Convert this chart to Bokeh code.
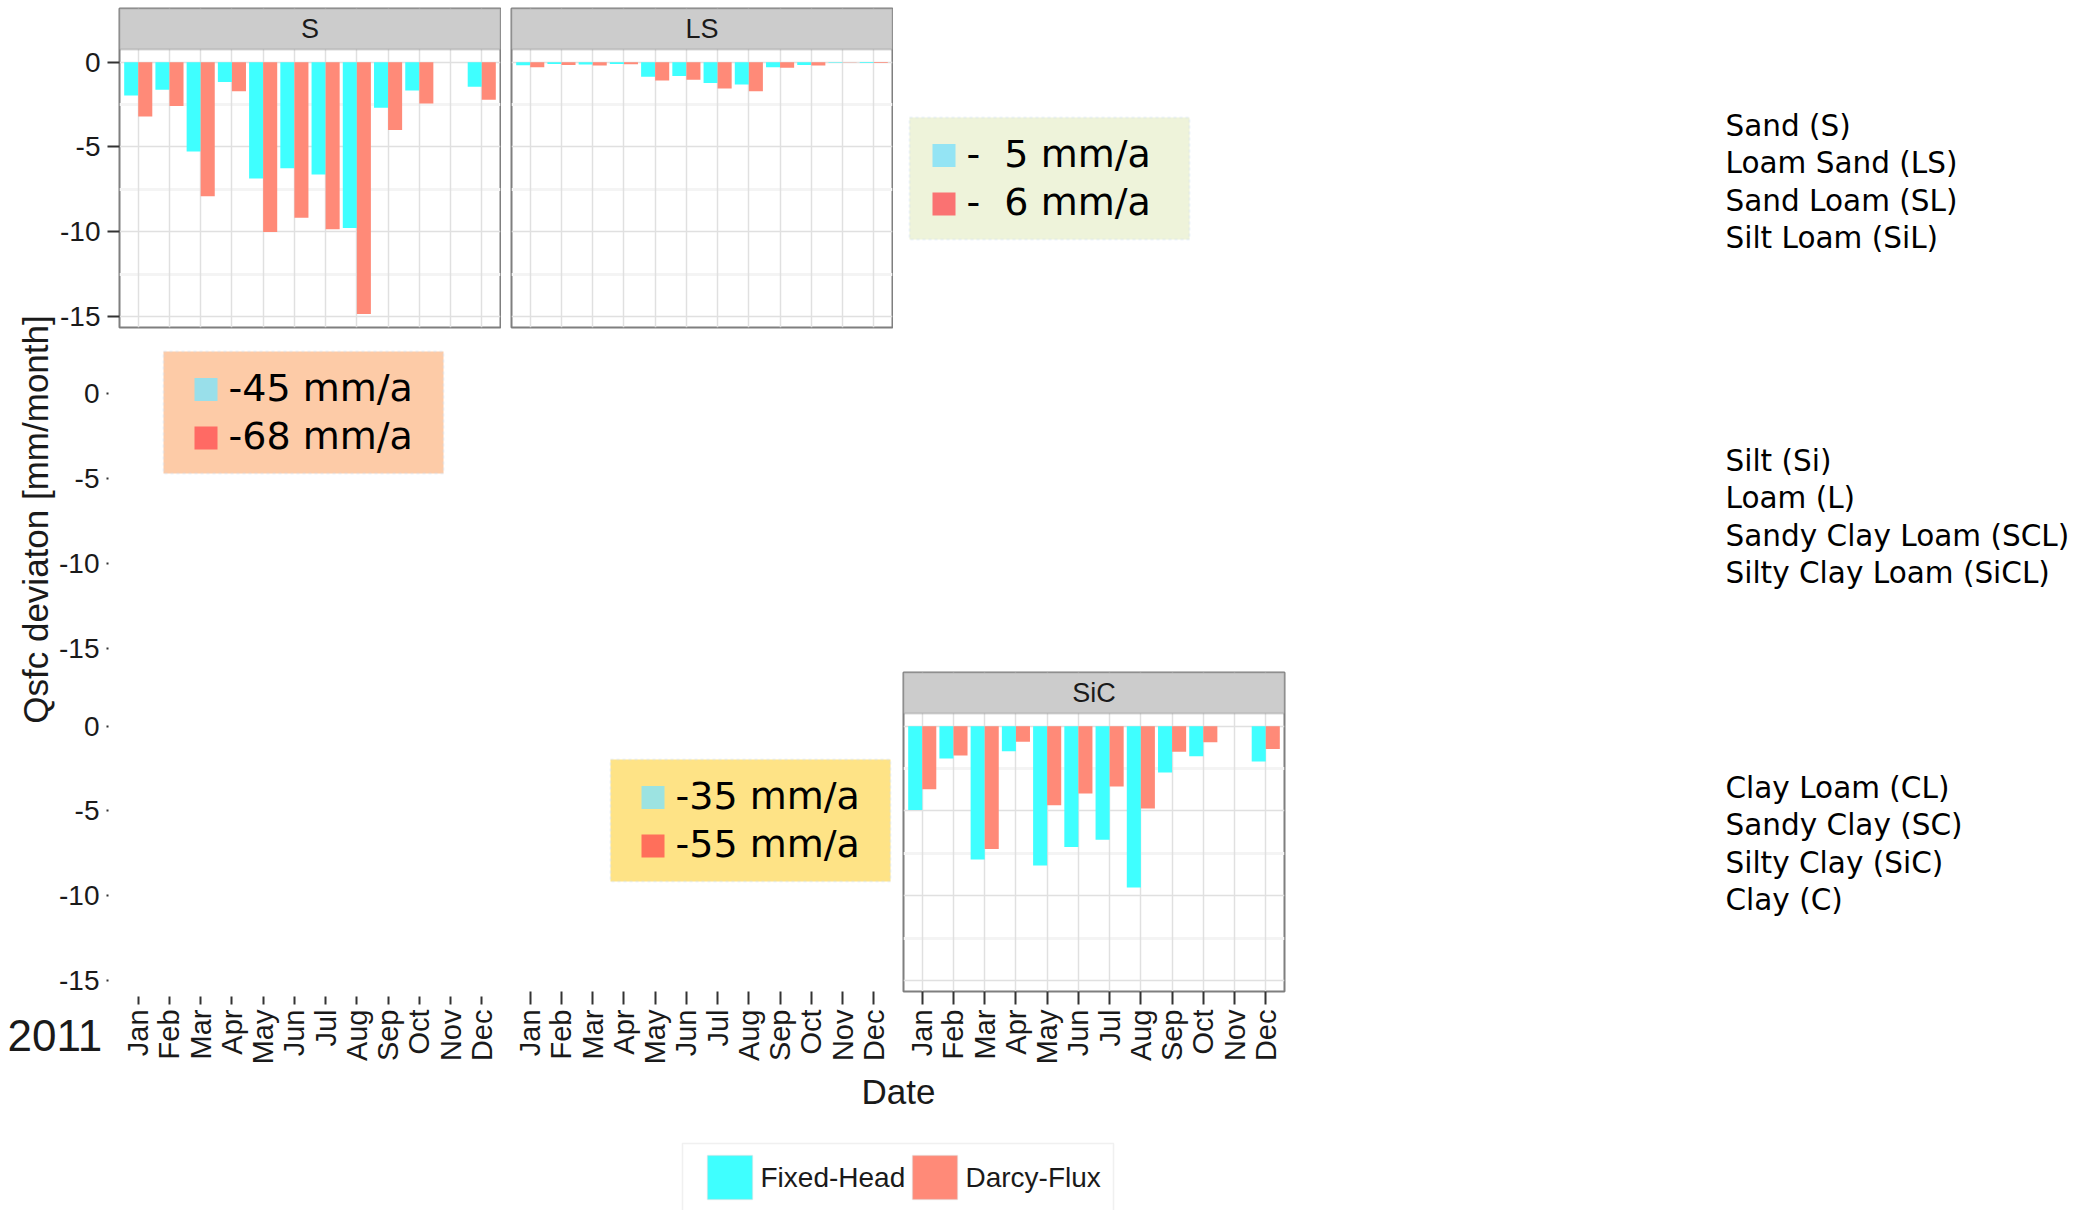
import math
from bokeh.plotting import figure
from bokeh.models import (Range1d, FixedTicker, LinearAxis, Grid, ColumnDataSource,
                          BoxAnnotation, Label)
from bokeh.layouts import row, column
from bokeh.transform import dodge
from bokeh.core.properties import value
from bokeh.embed import file_html
from bokeh.resources import INLINE

# ---------------- data ----------------
MONTHS = ["Jan", "Feb", "Mar", "Apr", "May", "Jun", "Jul", "Aug", "Sep", "Oct", "Nov", "Dec"]
MONTH_NUM = list(range(1, 13))
YEAR = "2011"
SERIES = ["Fixed-Head", "Darcy-Flux"]

S_FIXED = [-1.96, -1.63, -5.27, -1.16, -6.86, -6.25, -6.63, -9.78, -2.69, -1.67, 0.0, -1.45]
S_DARCY = [-3.20, -2.59, -7.90, -1.71, -10.02, -9.18, -9.86, -14.86, -4.00, -2.43, 0.0, -2.22]
LS_FIXED = [-0.18, -0.10, -0.14, -0.10, -0.86, -0.82, -1.22, -1.31, -0.29, -0.16, -0.03, -0.04]
LS_DARCY = [-0.29, -0.16, -0.20, -0.12, -1.08, -1.04, -1.55, -1.71, -0.33, -0.20, -0.02, -0.04]
SIC_FIXED = [-4.95, -1.91, -7.86, -1.47, -8.22, -7.12, -6.70, -9.51, -2.73, -1.77, 0.0, -2.08]
SIC_DARCY = [-3.72, -1.73, -7.25, -0.92, -4.66, -3.97, -3.56, -4.86, -1.51, -0.94, 0.0, -1.34]

FACETS = ["S", "LS", "SiC"]
NB = "\u00a0"
ANNUAL_S = ["-45 mm/a", "-68 mm/a"]
ANNUAL_LS = ["-" + NB + NB + "5 mm/a", "-" + NB + NB + "6 mm/a"]
ANNUAL_SIC = ["-35 mm/a", "-55 mm/a"]

SOILS_1 = ["Sand (S)", "Loam Sand (LS)", "Sand Loam (SL)", "Silt Loam (SiL)"]
SOILS_2 = ["Silt (Si)", "Loam (L)", "Sandy Clay Loam (SCL)", "Silty Clay Loam (SiCL)"]
SOILS_3 = ["Clay Loam (CL)", "Sandy Clay (SC)", "Silty Clay (SiC)", "Clay (C)"]

Y_TICKS = [0, -5, -10, -15]
Y_MINOR = [-2.5, -7.5, -12.5]
Y_LABEL = "Qsfc deviaton [mm/month]"
X_LABEL = "Date"

# ---------------- styles ----------------
CYAN = "#3FFFFF"
SALMON = "#FF8A78"
BORDER = "#7f7f7f"
STRIP_FILL = "#cccccc"
GRID_MAJOR = "#e0e0e0"
GRID_MINOR = "#f4f4f4"
TICK_COL = "#333333"
TXT = "#1a1a1a"
SANS = "Liberation Sans"
DEJAVU = "DejaVu Sans"
BOX_LINE = "#c9dcf2"

X_RANGE = (0.4, 12.6)
Y_RANGE = (-15.65, 0.75)

# ---------------- geometry (px) ----------------
FRAME_W = 381
FRAME_H = 278
STRIP_H = 41
PPU = FRAME_H / (Y_RANGE[1] - Y_RANGE[0])      # pixels per data unit in a panel
COL_LEFT = [63, 10, 10]
COL_RIGHT = [1, 1, 6]
FRAME_LEFT = [119, 511, 903]                    # canvas x of each column's frame
BOX_W, BOX_H, SQ, ROW1_DY, ROW_DY = 280, 122, 23, 38, 48.5


def ext_range(extra_top):
    return (Y_RANGE[0], Y_RANGE[1] + extra_top / PPU)


def base_fig(col, frame_h, top, bottom, xr=X_RANGE, yr=Y_RANGE, left=None, right=None, fw=FRAME_W):
    p = figure(frame_width=fw, frame_height=frame_h,
               min_border_left=COL_LEFT[col] if left is None else left,
               min_border_right=COL_RIGHT[col] if right is None else right,
               min_border_top=top, min_border_bottom=bottom,
               x_range=Range1d(*xr), y_range=Range1d(*yr),
               x_axis_location=None, y_axis_location=None,
               toolbar_location=None, output_backend="svg", title=None)
    p.outline_line_color = None
    p.background_fill_color = "white"
    p.border_fill_color = "white"
    p.grid.visible = False
    return p


def pixel_fig(w, h):
    """Decoration-only figure whose frame is the whole canvas, in pixel units (y down)."""
    p = figure(frame_width=w, frame_height=h, min_border_left=0, min_border_right=0,
               min_border_top=0, min_border_bottom=0,
               x_range=Range1d(0, w), y_range=Range1d(h, 0),
               x_axis_location=None, y_axis_location=None,
               toolbar_location=None, output_backend="svg", title=None)
    p.outline_line_color = None
    p.grid.visible = False
    return p


def add_y_axis(p, tick_in, tick_out):
    ax = LinearAxis(ticker=FixedTicker(ticks=Y_TICKS, minor_ticks=[]),
                    major_label_overrides={t: str(t) for t in Y_TICKS},
                    axis_line_color=None,
                    major_tick_in=tick_in, major_tick_out=tick_out,
                    major_tick_line_color=TICK_COL, major_tick_line_width=2,
                    minor_tick_line_color=None,
                    major_label_text_font=SANS, major_label_text_font_size="28px",
                    major_label_text_color=TXT, major_label_standoff=7)
    p.add_layout(ax, "left")


def add_x_axis(p, tick_out):
    ax = LinearAxis(ticker=FixedTicker(ticks=MONTH_NUM, minor_ticks=[]),
                    major_label_overrides={n: m for n, m in zip(MONTH_NUM, MONTHS)},
                    major_label_orientation=math.pi / 2, axis_line_color=None,
                    major_tick_out=tick_out, major_tick_in=0, major_tick_line_width=2,
                    major_tick_line_color=TICK_COL, minor_tick_line_color=None,
                    major_label_standoff=5, major_label_text_font=SANS,
                    major_label_text_font_size="29px", major_label_text_color=TXT)
    p.add_layout(ax, "below")


def panel(col, name, src, top, bottom):
    """Facet panel with its strip on top (strip lives inside the frame)."""
    p = base_fig(col, FRAME_H + STRIP_H, top, bottom, yr=ext_range(STRIP_H))
    p.outline_line_color = BORDER
    p.outline_line_width = 2
    p.add_layout(Grid(dimension=1, ticker=FixedTicker(ticks=Y_TICKS, minor_ticks=Y_MINOR),
                      grid_line_color=GRID_MAJOR, grid_line_width=1.5,
                      minor_grid_line_color=GRID_MINOR, minor_grid_line_width=3))
    p.add_layout(Grid(dimension=0, ticker=FixedTicker(ticks=MONTH_NUM, minor_ticks=[]),
                      grid_line_color=GRID_MAJOR, grid_line_width=1.5))
    p.vbar(x=dodge("month", -0.225), top="fixed", bottom=0, width=0.45, source=src,
           fill_color=CYAN, line_color=None)
    p.vbar(x=dodge("month", 0.225), top="darcy", bottom=0, width=0.45, source=src,
           fill_color=SALMON, line_color=None)
    scr = dict(left_units="screen", right_units="screen", top_units="screen", bottom_units="screen")
    p.add_layout(BoxAnnotation(left=0, right=FRAME_W, top=FRAME_H + STRIP_H, bottom=FRAME_H,
                               fill_color=STRIP_FILL, fill_alpha=1.0, line_color=BORDER,
                               line_width=2, **scr))
    p.add_layout(Label(x=FRAME_W / 2, y=FRAME_H + STRIP_H / 2, x_units="screen", y_units="screen",
                       text=name, text_align="center", text_baseline="middle",
                       text_font=SANS, text_font_size="27px", text_color=TXT))
    return p


def annual_box(p, col, frame_bottom, box_left, box_top, sq_dx, fill, sq_fills, texts):
    """Annual-sum box; positions given in canvas px, converted to frame-relative screen units."""
    fl = FRAME_LEFT[col]
    left = box_left - fl
    top = frame_bottom - box_top
    scr = dict(left_units="screen", right_units="screen", top_units="screen", bottom_units="screen")
    p.add_layout(BoxAnnotation(left=left, right=left + BOX_W, top=top, bottom=top - BOX_H,
                               fill_color=fill, fill_alpha=1.0, line_color=BOX_LINE,
                               line_width=2, line_dash="3 3", **scr))
    for i, (c, t) in enumerate(zip(sq_fills, texts)):
        cy = top - ROW1_DY - i * ROW_DY
        p.add_layout(BoxAnnotation(left=left + sq_dx, right=left + sq_dx + SQ,
                                   top=cy + SQ / 2, bottom=cy - SQ / 2,
                                   fill_color=c, fill_alpha=1.0, line_color=None, **scr))
        p.add_layout(Label(x=left + sq_dx + SQ + 11, y=cy + 2, x_units="screen", y_units="screen",
                           text=t, text_font=DEJAVU, text_font_size="38px",
                           text_baseline="middle", text_align="left", text_color="black"))


src_S = ColumnDataSource(dict(month=MONTH_NUM, fixed=S_FIXED, darcy=S_DARCY))
src_LS = ColumnDataSource(dict(month=MONTH_NUM, fixed=LS_FIXED, darcy=LS_DARCY))
src_SIC = ColumnDataSource(dict(month=MONTH_NUM, fixed=SIC_FIXED, darcy=SIC_DARCY))

# ---------------- row 1 (canvas y 0-335) ----------------
c1r1 = panel(0, FACETS[0], src_S, 8, 8)
add_y_axis(c1r1, 0, 12)
c2r1 = panel(1, FACETS[1], src_LS, 8, 8)
c3r1 = base_fig(2, 335, 0, 0)
annual_box(c3r1, 2, 335, 909, 117, 23, "#EEF3DA", ["#94E4F4", "#FA7272"], ANNUAL_LS)

# ---------------- row 2 (canvas y 335-666) ----------------
c1r2 = base_fig(0, 324, 0, 7, yr=ext_range(45))
add_y_axis(c1r2, -11, 13)
annual_box(c1r2, 0, 659, 163, 351, 31, "#FDCBA7", ["#99DFEA", "#FF6A64"], ANNUAL_S)
c2r2 = base_fig(1, 331, 0, 0)
c3r2 = base_fig(2, 331, 0, 0)

# ---------------- row 3 (canvas y 666-1070) ----------------
c1r3 = base_fig(0, 325, 0, 4, yr=ext_range(47))
add_y_axis(c1r3, -11, 13)
c2r3 = base_fig(1, 325, 0, 79, yr=ext_range(47))
add_x_axis(c2r3, 13)
annual_box(c2r3, 1, 991, 610, 759, 31, "#FEE386", ["#9CE3E1", "#FF6F5B"], ANNUAL_SIC)
c3r3 = panel(2, FACETS[2], src_SIC, 6, 79)
add_x_axis(c3r3, 13)

# ---------------- y title ----------------
ytitle = pixel_fig(56, 995)
ytitle.text(x=[35], y=[519], text=[Y_LABEL], angle=math.pi / 2, text_align="center",
            text_baseline="middle", text_font=value(SANS), text_font_size="35px", text_color=TXT)

# ---------------- year + first column's x axis ----------------
year_fig = pixel_fig(119, 75)
year_fig.text(x=[7], y=[40], text=[YEAR], text_align="left", text_baseline="middle",
              text_font=value(SANS), text_font_size="44px", text_color=TXT)

xaxis1 = base_fig(0, 1, 0, 74, yr=(0, 1), left=0)
add_x_axis(xaxis1, 8)

# ---------------- bottom: x title + legend ----------------
bottom = pixel_fig(1290, 140)
bottom.text(x=[898], y=[21], text=[X_LABEL], text_align="center", text_baseline="middle",
            text_font=value(SANS), text_font_size="35px", text_color=TXT)
bottom.add_layout(BoxAnnotation(left=682, right=1113, top=73, bottom=150,
                                fill_color="white", fill_alpha=1.0,
                                line_color="#cccccc", line_width=1.5))
KEY_X = [707, 912]
KEY_W, KEY_H, KEY_TOP, KEY_GAP = 45, 44, 85, 8
for kx, c, name in zip(KEY_X, [CYAN, SALMON], SERIES):
    bottom.add_layout(BoxAnnotation(left=kx, right=kx + KEY_W, top=KEY_TOP, bottom=KEY_TOP + KEY_H,
                                    fill_color=c, fill_alpha=1.0,
                                    line_color="#d0d0d0", line_width=1.5))
    bottom.add_layout(Label(x=kx + KEY_W + KEY_GAP, y=KEY_TOP + KEY_H / 2, text=name,
                            text_align="left", text_baseline="middle", text_font=SANS,
                            text_font_size="28px", text_color=TXT))

# ---------------- right: soil classes ----------------
right = pixel_fig(796, 1210)
GROUP_Y0 = [125, 460, 787]
LINE_DY = 37.5
rx, ry, rt = [], [], []
for g, names in enumerate([SOILS_1, SOILS_2, SOILS_3]):
    for i, n in enumerate(names):
        rx.append(435)
        ry.append(GROUP_Y0[g] + i * LINE_DY)
        rt.append(n)
right.text(x="x", y="y", text="t", source=ColumnDataSource(dict(x=rx, y=ry, t=rt)),
           text_align="left", text_baseline="middle", text_font=value(DEJAVU),
           text_font_size="29.5px", text_color="black")

col01 = column(row(ytitle, column(c1r1, c1r2, c1r3)), row(year_fig, xaxis1))
col2 = column(c2r1, c2r2, c2r3)
col3 = column(c3r1, c3r2, c3r3)
left_block = column(row(col01, col2, col3), bottom)
layout = row(left_block, right)

open("out.html", "w").write(file_html(layout, INLINE, title="Qsfc deviation"))
